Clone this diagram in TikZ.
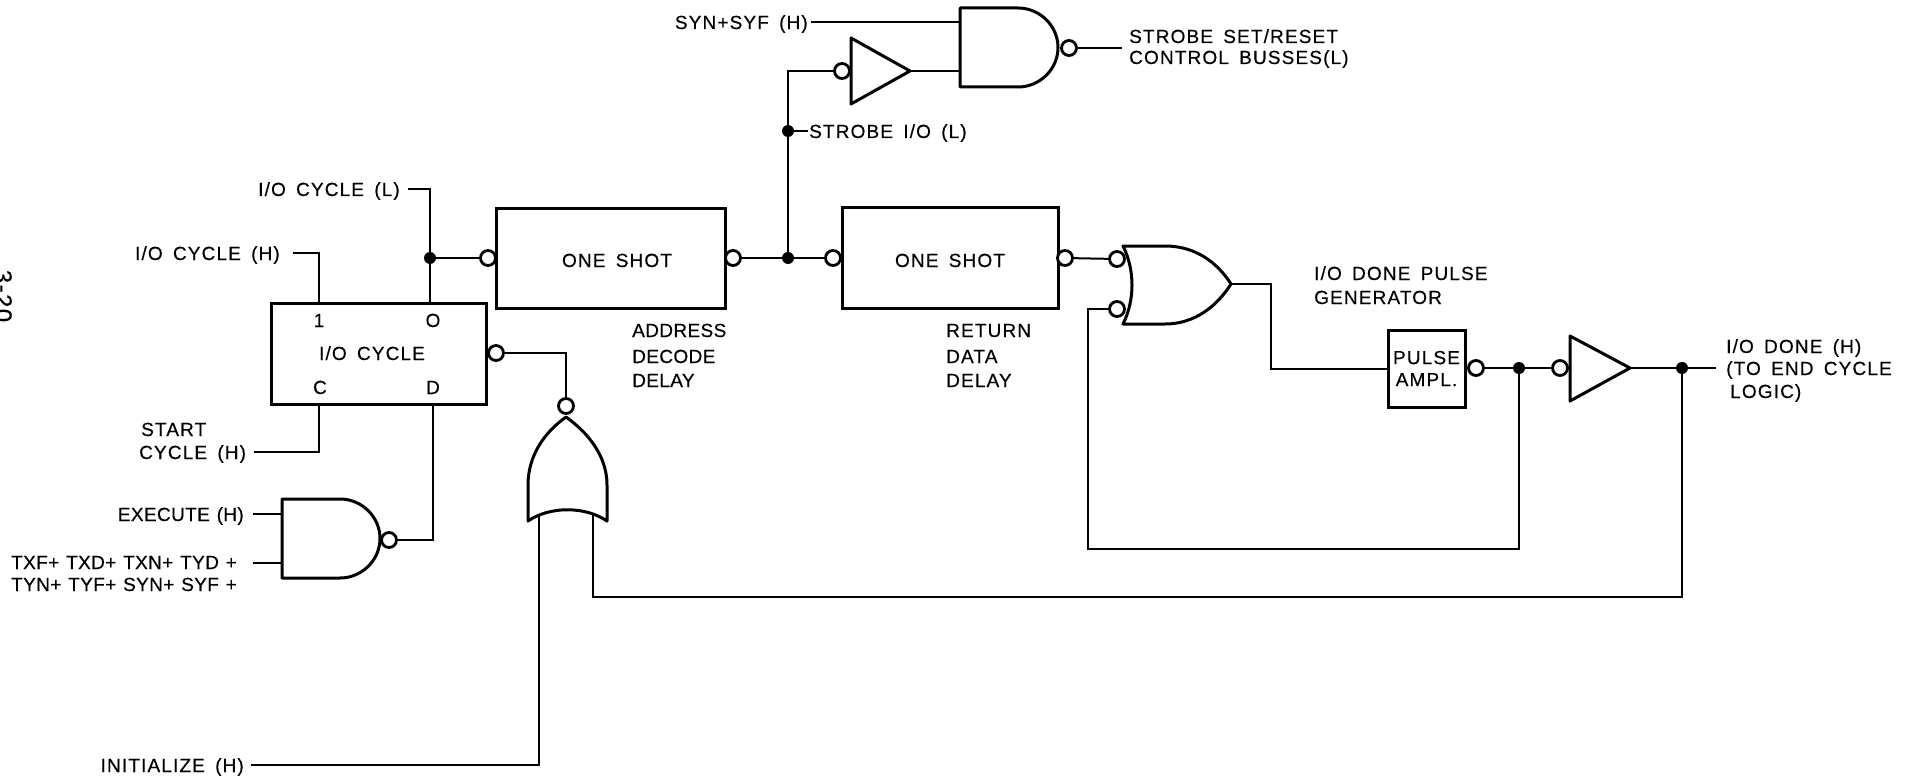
\documentclass[tikz,border=0pt]{standalone}
\usepackage{fontspec}
\setmainfont[LetterSpace=6,WordSpace=1.6,FakeBold=0.4]{Liberation Sans}
\newfontfamily\tightfont[LetterSpace=2,WordSpace=1.2,FakeBold=0.4]{Liberation Sans}
\tikzset{
  lbl/.style={inner sep=0pt, font=\fontsize{19}{22}\selectfont, text=black, text height=14pt, text depth=0pt},
  lblL/.style={lbl, anchor=west},
  lblR/.style={lbl, anchor=east},
  tight/.style={font=\tightfont\fontsize{19}{22}\selectfont},
  box/.style={draw, line width=3pt, inner sep=0pt, font=\fontsize{19}{22}\selectfont},
  gate/.style={draw, line width=3pt, line join=round},
  wire/.style={draw, line width=2pt},
  bub/.style={draw, circle, line width=2.8pt, inner sep=0pt, minimum size=15pt, fill=white},
  dot/.style={circle, fill=black, inner sep=0pt, minimum size=12pt}
}
\begin{document}
\begin{tikzpicture}[x=1pt, y=-1pt]
  \useasboundingbox (0,0) rectangle (1916,778);

  % boxes
  \node[box, minimum width=215pt, minimum height=101pt] (cycle) at (378.5,353.5) {};
  \node[box, minimum width=229pt, minimum height=99pt] (shotA) at (610.5,258.5) {};
  \node[box, minimum width=216pt, minimum height=100pt] (shotB) at (950,258) {};
  \node[box, minimum width=77pt, minimum height=77pt, align=center] (ampl) at (1426.5,368.5) {PULSE\\AMPL.};

  % gates
  \draw[gate] (282,499) -- (340,499) .. controls (362,499) and (380,517) .. (380,538.5)
    .. controls (380,560) and (362,578) .. (340,578) -- (282,578) -- cycle;
  \draw[gate] (960,8) -- (1018,8) .. controls (1040,8) and (1058,26) .. (1058,47.5)
    .. controls (1058,69) and (1040,87) .. (1018,87) -- (960,87) -- cycle;
  \draw[gate] (1123,246) -- (1165,246) .. controls (1195,246) and (1217,262) .. (1231,284)
    .. controls (1217,306) and (1195,324) .. (1165,324) -- (1123,324)
    .. controls (1135,300) and (1135,270) .. (1123,246) -- cycle;
  \draw[gate] (566,417) .. controls (545,432) and (528,455) .. (528,485) -- (528,521)
    .. controls (550,506) and (585,506) .. (607,521) -- (607,485)
    .. controls (607,455) and (587,432) .. (566,417) -- cycle;
  \draw[gate] (851,38) -- (910,71) -- (851,104) -- cycle;
  \draw[gate] (1570,336) -- (1630,368) -- (1570,401) -- cycle;

  % bubbles
  \node[bub] (bA) at (488,258) {};
  \node[bub] (bB) at (733,258) {};
  \node[bub] (bC) at (833,258) {};
  \node[bub] (bD) at (1065,258) {};
  \node[bub] (bE) at (1117,259) {};
  \node[bub] (bF) at (1117,309) {};
  \node[bub] (bG) at (496,353) {};
  \node[bub] (bH) at (566,406) {};
  \node[bub] (bI) at (389,540) {};
  \node[bub] (bJ) at (1069,48) {};
  \node[bub] (bK) at (842,71) {};
  \node[bub] (bL) at (1476,368) {};
  \node[bub] (bM) at (1560,368) {};

  % junctions
  \node[dot] (jA) at (430,258) {};
  \node[dot] (jB) at (788,258) {};
  \node[dot] (jC) at (788,131) {};
  \node[dot] (jD) at (1519,368) {};
  \node[dot] (jE) at (1682,368) {};

  % free ends
  \coordinate (one) at (319,303);
  \coordinate (zero) at (430,303);
  \coordinate (clk) at (319,404);
  \coordinate (data) at (433,404);
  \coordinate (cycleL) at (408,189);
  \coordinate (cycleH) at (293,253);
  \coordinate (start) at (254,452);
  \coordinate (execA) at (253,514);
  \coordinate (execB) at (282,514);
  \coordinate (txA) at (253,563);
  \coordinate (txB) at (282,563);
  \coordinate (synA) at (811,22);
  \coordinate (synB) at (960,22);
  \coordinate (bufA) at (910,71);
  \coordinate (bufB) at (960,71);
  \coordinate (strobe) at (808,131);
  \coordinate (ctrl) at (1122,48);
  \coordinate (orOut) at (1231,284);
  \coordinate (amplIn) at (1388,369);
  \coordinate (bufC) at (1630,368);
  \coordinate (done) at (1716,368);
  \coordinate (initA) at (539,514);
  \coordinate (initB) at (251,765);
  \coordinate (backA) at (593,514);

  % connectors
  \draw[wire] (cycleL) -| (zero);
  \draw[wire] (cycleH) -| (one);
  \draw[wire] (start) -| (clk);
  \draw[wire] (bI) -| (data);
  \draw[wire] (jA) -- (bA);
  \draw[wire] (bB) -- (bC);
  \draw[wire] (bD) -- (bE);
  \draw[wire] (bG) -| (bH);
  \draw[wire] (execA) -- (execB);
  \draw[wire] (txA) -- (txB);
  \draw[wire] (synA) -- (synB);
  \draw[wire] (bufA) -- (bufB);
  \draw[wire] (bJ) -- (ctrl);
  \draw[wire] (bK) -| (jB);
  \draw[wire] (jC) -- (strobe);
  \draw[wire] (orOut) -| (1271,369) -- (amplIn);
  \draw[wire] (bL) -- (bM);
  \draw[wire] (bufC) -- (done);
  \draw[wire] (jD) |- (1088,549) |- (bF);
  \draw[wire] (jE) |- (593,597) -- (backA);
  \draw[wire] (initA) |- (initB);

  % labels
  \node[lbl] (pin1) at (319,320) {1};
  \node[lbl] (pin0) at (433,320) {O};
  \node[lbl] (pinC) at (320,387) {C};
  \node[lbl] (pinD) at (433,387) {D};
  \node[lbl] (tCycle) at (372,353) {I/O CYCLE};
  \node[lbl] (tShotA) at (617,260) {ONE SHOT};
  \node[lbl] (tShotB) at (950,260) {ONE SHOT};
  \node[lblR] (tCycleL) at (400,189) {I/O CYCLE (L)};
  \node[lblR] (tCycleH) at (280,253) {I/O CYCLE (H)};
  \node[lblL] (tStart) at (141,429) {START};
  \node[lblL] (tStartB) at (139,452) {CYCLE (H)};
  \node[lblR, tight] (tExec) at (244,514) {EXECUTE (H)};
  \node[lblL, tight] (tTxA) at (11,562) {TXF+ TXD+ TXN+ TYD +};
  \node[lblL, tight] (tTxB) at (11,584) {TYN+ TYF+ SYN+ SYF +};
  \node[lblR] (tInit) at (244,765) {INITIALIZE (H)};
  \node[lblR] (tSyn) at (808,22) {SYN+SYF (H)};
  \node[lblL] (tSetA) at (1129,36) {STROBE SET/RESET};
  \node[lblL] (tSetB) at (1129,57) {CONTROL BUSSES(L)};
  \node[lblL] (tStrobe) at (809,131) {STROBE I/O (L)};
  \node[lblL, tight] (tAddrA) at (632,330) {ADDRESS};
  \node[lblL, tight] (tAddrB) at (632,356) {DECODE};
  \node[lblL, tight] (tAddrC) at (632,380) {DELAY};
  \node[lblL] (tRetA) at (946,330) {RETURN};
  \node[lblL] (tRetB) at (946,356) {DATA};
  \node[lblL] (tRetC) at (946,380) {DELAY};
  \node[lblL] (tPulseA) at (1314,273) {I/O DONE PULSE};
  \node[lblL] (tPulseB) at (1314,297) {GENERATOR};
  \node[lblL] (tDoneA) at (1726,346) {I/O DONE (H)};
  \node[lblL] (tDoneB) at (1726,368) {(TO END CYCLE};
  \node[lblL] (tDoneC) at (1730,391) {LOGIC)};
  \node[lbl, rotate=-90, font=\fontsize{24}{26}\selectfont] (page) at (2,296) {3-20};
\end{tikzpicture}
\end{document}
